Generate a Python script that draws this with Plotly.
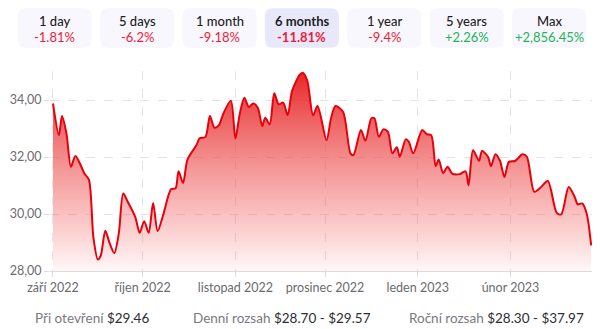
import plotly.graph_objects as go

dates = [
    "2022-09-01", "2022-09-03", "2022-09-04", "2022-09-05 12:00", "2022-09-07",
    "2022-09-08 12:00", "2022-09-10 12:00", "2022-09-11 12:00", "2022-09-13", "2022-09-14 12:00",
    "2022-09-16", "2022-09-17", "2022-09-18 12:00", "2022-09-20", "2022-09-21 12:00",
    "2022-09-23", "2022-09-24 12:00", "2022-09-26", "2022-09-28 12:00", "2022-09-30",
    "2022-10-01 12:00", "2022-10-03", "2022-10-04 12:00", "2022-10-06", "2022-10-08",
    "2022-10-10 12:00", "2022-10-12", "2022-10-13", "2022-10-14 12:00", "2022-10-16",
    "2022-10-19", "2022-10-20", "2022-10-22", "2022-10-23 12:00", "2022-10-25",
    "2022-10-26 12:00", "2022-10-28", "2022-10-30 12:00", "2022-11-01", "2022-11-02 12:00",
    "2022-11-04", "2022-11-05 12:00", "2022-11-07", "2022-11-08 12:00", "2022-11-10",
    "2022-11-11", "2022-11-12 12:00", "2022-11-14", "2022-11-15 12:00", "2022-11-17",
    "2022-11-18 12:00", "2022-11-20", "2022-11-22 12:00", "2022-11-23 12:00", "2022-11-25",
    "2022-11-27", "2022-11-28 12:00", "2022-12-01 12:00", "2022-12-03", "2022-12-04 12:00",
    "2022-12-07", "2022-12-09 12:00", "2022-12-10 12:00", "2022-12-13", "2022-12-14 12:00",
    "2022-12-16 12:00", "2022-12-17 12:00", "2022-12-19", "2022-12-20 12:00", "2022-12-22",
    "2022-12-23 12:00", "2022-12-25", "2022-12-26", "2022-12-28", "2022-12-29",
    "2022-12-30 12:00", "2023-01-02 12:00", "2023-01-04", "2023-01-05 12:00", "2023-01-07",
    "2023-01-08", "2023-01-09 12:00", "2023-01-11", "2023-01-12 12:00", "2023-01-15",
    "2023-01-17", "2023-01-18", "2023-01-19 12:00", "2023-01-21 12:00", "2023-01-22 12:00",
    "2023-01-24 12:00", "2023-01-25 12:00", "2023-01-27", "2023-01-28 12:00", "2023-01-30",
    "2023-01-31 12:00", "2023-02-02 12:00", "2023-02-03 12:00", "2023-02-05", "2023-02-06 12:00",
    "2023-02-09", "2023-02-11", "2023-02-13 12:00", "2023-02-16 12:00", "2023-02-18",
    "2023-02-20 12:00", "2023-02-22 12:00", "2023-02-23 12:00", "2023-02-25", "2023-02-26 12:00",
    "2023-02-28",
]
prices = [
    33.88, 32.77, 33.44, 32.83, 31.66,
    32.04, 31.66, 31.42, 31.21, 29.20,
    28.40, 28.55, 29.41, 28.96, 28.63,
    29.31, 30.72, 30.43, 29.90, 29.34,
    29.75, 29.34, 30.39, 29.40, 30.02,
    30.87, 30.90, 31.50, 31.09, 31.92,
    32.42, 32.65, 32.71, 33.44, 33.03,
    33.12, 33.53, 33.98, 32.65, 33.53,
    34.08, 33.76, 33.88, 33.73, 33.09,
    33.38, 33.15, 34.24, 33.85, 33.91,
    33.47, 34.33, 34.88, 34.96, 34.70,
    33.47, 33.79, 32.59, 33.36, 33.79,
    33.59, 32.13, 32.07, 32.95, 32.57,
    33.36, 33.36, 32.71, 32.97, 32.89,
    32.13, 32.34, 32.01, 32.62, 32.54,
    32.13, 32.95, 32.80, 32.77, 31.68,
    31.91, 31.44, 31.66, 31.42, 31.40,
    31.50, 31.01, 32.24, 31.87, 32.21,
    32.01, 31.68, 32.10, 31.87, 31.30,
    31.83, 31.86, 31.95, 32.10, 32.01,
    30.78, 30.92, 31.16, 30.04, 29.99,
    30.95, 30.60, 30.34, 30.37, 30.02,
    28.90,
]

month_ticks = ["2022-09-01", "2022-10-01", "2022-11-01", "2022-12-01", "2023-01-01", "2023-02-01"]
month_labels = ["září 2022", "říjen 2022", "listopad 2022", "prosinec 2022", "leden 2023", "únor 2023"]
y_ticks = [28, 30, 32, 34]

periods = ["1 day", "5 days", "1 month", "6 months", "1 year", "5 years", "Max"]
changes = ["-1.81%", "-6.2%", "-9.18%", "-11.81%", "-9.4%", "+2.26%", "+2,856.45%"]
selected_period = "6 months"

stats_labels = ["Při otevření", "Denní rozsah", "Roční rozsah"]
stats_values = ["$29.46", "$28.70 - $29.57", "$28.30 - $37.97"]

W, H = 600, 329
L, R, T, B = 50, 8, 71, 58
PW, PH = W - L - R, H - T - B

def xp(px):
    return (px - L) / PW

def yp(py):
    return (H - B - py) / PH

FONT = "Lato, 'Noto Sans', sans-serif"

fig = go.Figure()
fig.add_trace(go.Scatter(
    x=dates, y=prices, mode="lines",
    line=dict(color="#e8000b", width=2, shape="spline", smoothing=0.8),
    fill="tozeroy",
    fillgradient=dict(
        type="vertical",
        colorscale=[[0, "rgba(245,60,60,0.04)"], [0.5, "rgba(236,70,70,0.55)"], [1, "rgba(230,25,25,0.95)"]],
        start=28, stop=35.02,
    ),
    hoverinfo="skip", showlegend=False,
))

shapes = []
annotations = []
box_w, box_h = 74, 39.5
for i, (p, c) in enumerate(zip(periods, changes)):
    x0 = 17.7 + 82.4 * i
    x1 = x0 + box_w
    y0, y1 = 8.3, 8.3 + box_h
    r = 8
    rx, ry = r / PW, r / PH
    X0, X1, Y0, Y1 = xp(x0), xp(x1), yp(y1), yp(y0)
    path = (f"M {X0+rx},{Y0} L {X1-rx},{Y0} Q {X1},{Y0} {X1},{Y0+ry} "
            f"L {X1},{Y1-ry} Q {X1},{Y1} {X1-rx},{Y1} L {X0+rx},{Y1} "
            f"Q {X0},{Y1} {X0},{Y1-ry} L {X0},{Y0+ry} Q {X0},{Y0} {X0+rx},{Y0} Z")
    sel = (p == selected_period)
    shapes.append(dict(type="path", path=path, xref="paper", yref="paper",
                       fillcolor="#e9e8fb" if sel else "#f8f7fd", line=dict(width=0), layer="below"))
    cx = xp(x0 + box_w / 2)
    annotations.append(dict(x=cx, y=yp(21), xref="paper", yref="paper", text=p, showarrow=False,
                            xanchor="center", yanchor="middle",
                            font=dict(family=FONT, size=13, color="#1e1e24", weight=700 if sel else 500)))
    col = "#20b457" if c.startswith("+") else "#ee1c36"
    annotations.append(dict(x=cx, y=yp(37), xref="paper", yref="paper", text=c, showarrow=False,
                            xanchor="center", yanchor="middle",
                            font=dict(family=FONT, size=13, color=col, weight=700 if sel else 400)))

stat_x = [33, 191, 407]
for sx, lab, val in zip(stat_x, stats_labels, stats_values):
    annotations.append(dict(x=xp(sx), y=yp(318), xref="paper", yref="paper", showarrow=False,
                            xanchor="left", yanchor="middle",
                            text=f"<span style='color:#7a7a80'>{lab}</span> <span style='color:#2d2d33'>{val}</span>",
                            font=dict(family=FONT, size=13.5)))

fig.update_layout(
    width=W, height=H, margin=dict(l=L, r=R, t=T, b=B),
    paper_bgcolor="white", plot_bgcolor="white",
    separators=", ",
    font=dict(family=FONT, size=12, color="#6b6b70"),
    shapes=shapes, annotations=annotations,
    xaxis=dict(
        type="date", range=["2022-08-31", "2023-02-28 07:00"],
        tickvals=month_ticks, ticktext=month_labels,
        showgrid=True, gridcolor="#e4e4e6", griddash="dash", gridwidth=1,
        ticks="outside", ticklen=5, tickcolor="#dcdcde",
        showline=True, linecolor="#dcdcde", linewidth=1,
        tickfont=dict(family=FONT, size=12.5, color="#6b6b70"),
        zeroline=False, layer="above traces",
    ),
    yaxis=dict(
        range=[28, 35.02], tickvals=y_ticks, tickformat=".2f",
        showgrid=True, gridcolor="#e4e4e6", griddash="dash", gridwidth=1,
        ticks="outside", ticklen=5, tickcolor="#dcdcde",
        tickfont=dict(family=FONT, size=12.5, color="#6b6b70"),
        zeroline=False, showline=False, layer="above traces",
    ),
)

fig.write_html("out.html")
